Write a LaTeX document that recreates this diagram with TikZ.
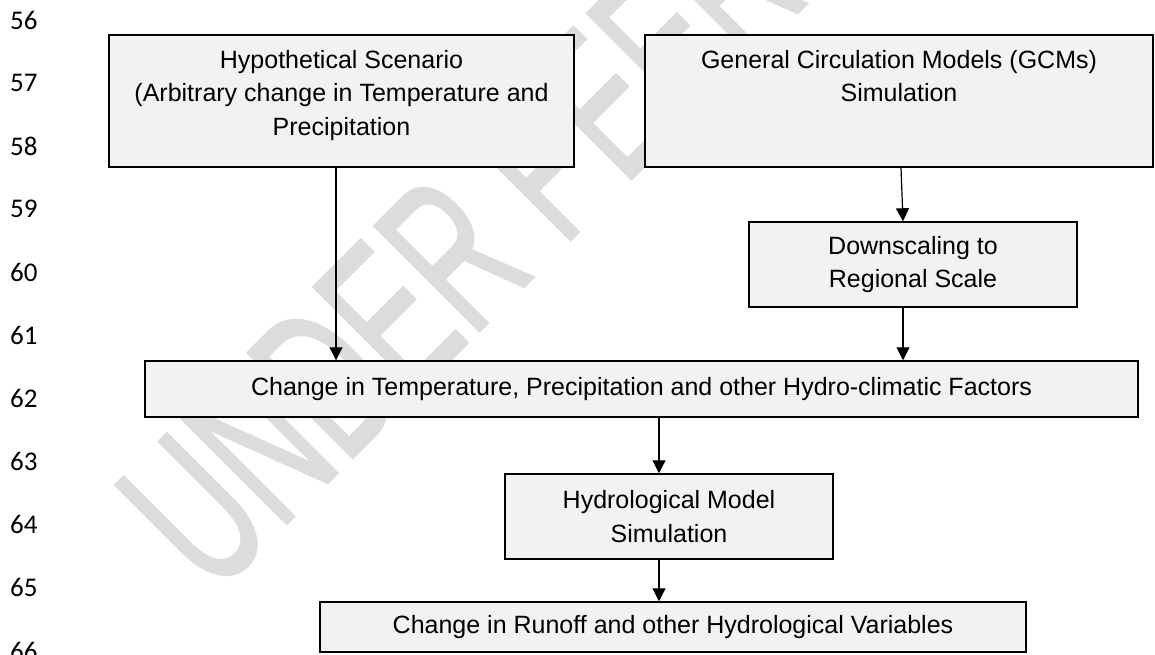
\documentclass[tikz,border=0pt]{standalone}
\usepackage{fontspec}
\setmainfont{Liberation Sans}
\newfontfamily\numfont{Carlito}
\newfontfamily\wmfont[FakeBold=1.5]{Liberation Sans}
\usetikzlibrary{arrows.meta}
\definecolor{boxfill}{HTML}{F2F2F2}
\definecolor{wmgray}{HTML}{DCDCDC}
\newcommand\boxfont{\fontsize{25}{33.5}\selectfont}
\tikzset{
  box/.style={draw=black, fill=boxfill, line width=1.5pt, inner sep=0pt, align=center, font=\boxfont},
  conn/.style={line width=1.2pt, -{Triangle[length=13pt,width=13pt]}},
  linenum/.style={anchor=west, inner sep=0pt, font=\numfont\fontsize{27}{30}\selectfont},
  wm/.style={text=wmgray, inner sep=0pt, font=\wmfont\fontsize{215}{215}\selectfont},
}
\begin{document}
\begin{tikzpicture}[x=1pt, y=-1pt]
\useasboundingbox (0,0) rectangle (1155,654);
\fill[white] (0,0) rectangle (1155,654);

% watermark
\begin{scope}[shift={(213,597)}, rotate=45, xscale=0.6]
\node[wm, anchor=base west, transform shape] (wmark) at (0,0) {UNDER PEER REVIEW};
\end{scope}

% line numbers
\foreach \n in {56,...,66} {
  \node[linenum] (ln\n) at (10, {20+(\n-56)*63.1}) {\n};
}

% boxes
\node[box] (hyp) at (341.5,101) {\begin{minipage}[c][132pt][t]{465pt}\centering\vspace*{15pt}Hypothetical Scenario\\(Arbitrary change in Temperature and\\Precipitation\end{minipage}};
\node[box] (gcm) at (899,101) {\begin{minipage}[c][132pt][t]{508pt}\centering\vspace*{15pt}General Circulation Models (GCMs)\\Simulation\end{minipage}};
\node[box, minimum width=328pt, minimum height=85pt] (down) at (913,264.5) {Downscaling to\\Regional Scale};
\node[box, minimum width=993pt, minimum height=56pt] (chg) at (641.5,389) {Change in Temperature, Precipitation and other Hydro-climatic Factors};
\node[box, minimum width=328pt, minimum height=85pt] (hydro) at (669,516.5) {Hydrological Model\\Simulation};
\node[box, minimum width=706pt, minimum height=50pt] (runoff) at (673,627) {Change in Runoff and other Hydrological Variables};

% connectors
\draw[conn] ([xshift=-5.5pt]hyp.south) -- ([xshift=-5.5pt]hyp.south |- chg.north);
\draw[conn] ([xshift=2pt]gcm.south) -- ([xshift=-10pt]down.north);
\draw[conn] ([xshift=-10pt]down.south) -- ([xshift=-10pt]down.south |- chg.north);
\draw[conn] ([xshift=-10pt]hydro.north |- chg.south) -- ([xshift=-10pt]hydro.north);
\draw[conn] ([xshift=-10pt]hydro.south) -- ([xshift=-10pt]hydro.south |- runoff.north);
\end{tikzpicture}
\end{document}
